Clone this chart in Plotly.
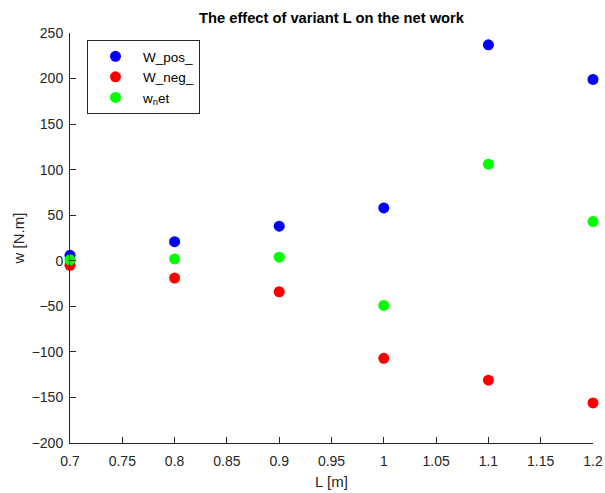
import plotly.graph_objects as go

L = [0.7, 0.8, 0.9, 1.0, 1.1, 1.2]
W_pos = [6, 21, 38, 58, 237, 199]
W_neg = [-5, -19, -34, -107, -131, -156]
w_net = [1, 2, 4, -49, 106, 43]

names = ["W_pos_", "W_neg_", "w<sub>n</sub>et"]
colors = ["#0000ff", "#ff0000", "#00ff00"]
series = [W_pos, W_neg, w_net]

fig = go.Figure()
for n, c, s in zip(names, colors, series):
    fig.add_trace(go.Scatter(x=L, y=s, mode="markers", name=n,
                             marker=dict(color=c, size=11, line=dict(width=0)),
                             cliponaxis=False))

font = "Liberation Sans, Arial, sans-serif"
H = 493
fig.update_layout(
    width=605, height=H,
    margin=dict(l=70, r=12, t=33, b=50, autoexpand=False),
    plot_bgcolor="white", paper_bgcolor="white",
    font=dict(family=font, size=14, color="#262626"),
    title=dict(text="<b>The effect of variant L on the net work</b>",
               x=0.5, xref="paper", xanchor="center",
               y=1 - 18 / H, yanchor="middle",
               font=dict(size=14.7, color="black")),
    xaxis=dict(range=[0.7, 1.2], tickvals=[0.7,0.75,0.8,0.85,0.9,0.95,1,1.05,1.1,1.15,1.2],
               ticktext=["0.7","0.75","0.8","0.85","0.9","0.95","1","1.05","1.1","1.15","1.2"],
               ticks="inside", ticklen=6, tickcolor="#262626", showline=True, linecolor="#262626",
               linewidth=1, showgrid=False, zeroline=False, mirror=False, automargin=False,
               tickfont=dict(size=14, color="#262626"), ticklabelstandoff=5,
               ticklabeloverflow="allow",
               title=dict(text="L [m]", font=dict(size=15), standoff=8)),
    yaxis=dict(range=[-200, 250], dtick=50,
               ticks="inside", ticklen=6, tickcolor="#262626", showline=True, linecolor="#262626",
               linewidth=1, showgrid=False, zeroline=False, mirror=False, automargin=False,
               tickfont=dict(size=14, color="#262626"), ticklabelstandoff=3,
               title=dict(text="w [N.m]", font=dict(size=15), standoff=3)),
    legend=dict(x=(87 - 70) / 523, y=(443 - 40) / 410, xanchor="left", yanchor="top",
                bordercolor="#262626", borderwidth=1, bgcolor="white",
                font=dict(size=13.5, color="black"), itemwidth=45,
                tracegroupgap=0),
    showlegend=True,
)
fig.write_html("out.html", config={"displayModeBar": False},
               post_script="document.body.style.margin='0';")
